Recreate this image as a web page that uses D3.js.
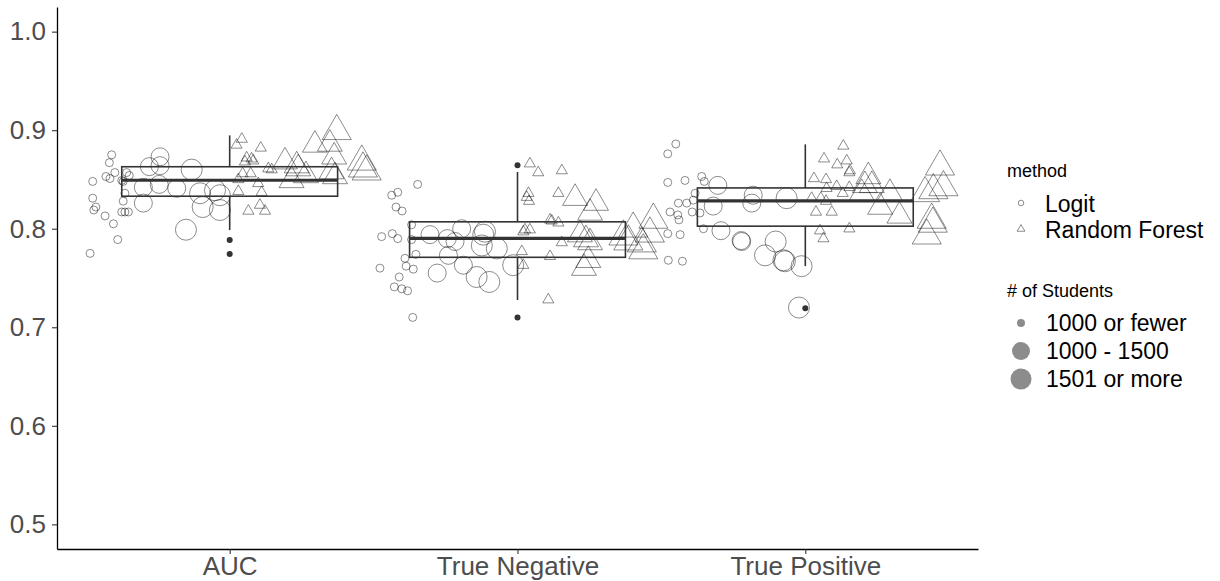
<!DOCTYPE html>
<html>
<head>
<meta charset="utf-8">
<script src="https://cdn.jsdelivr.net/npm/d3@7"></script>
<style>
  body { margin: 0; background: #fff; }
  svg { display: block; font-family: "Liberation Sans", Arial, sans-serif; }
</style>
</head>
<body>
<div id="chart"></div>
<script>
// chart data
const categories = ["AUC", "True Negative", "True Positive"];
const methods = ["Logit", "Random Forest"];
const sizeClasses = ["1000 or fewer", "1000 - 1500", "1501 or more"];
const yTicks = [0.5, 0.6, 0.7, 0.8, 0.9, 1.0];

// boxplot stats per category
const boxLow = [0.7986, 0.7277, 0.7621];
const boxQ1 = [0.833, 0.771, 0.8026];
const boxMedian = [0.8492, 0.7902, 0.8282];
const boxQ3 = [0.8629, 0.807, 0.8414];
const boxHigh = [0.8947, 0.8576, 0.8856];
const outliers = [[0.7885, 0.7743], [0.8644, 0.7098], [0.7193]];

// points: [value, size class index, jitter (category units)]
const aucLogit = [
  [0.875,0,-0.410],[0.867,0,-0.418],[0.853,0,-0.430],[0.851,0,-0.416],[0.857,0,-0.399],[0.848,0,-0.476],
  [0.854,0,-0.349],[0.848,0,-0.370],[0.836,0,-0.364],[0.831,0,-0.476],[0.822,0,-0.465],[0.819,0,-0.472],
  [0.813,0,-0.433],[0.805,0,-0.404],[0.817,0,-0.375],[0.817,0,-0.364],[0.817,0,-0.352],[0.828,0,-0.370],
  [0.789,0,-0.389],[0.775,0,-0.485],[0.849,0,-0.375],[0.857,0,-0.358],
  [0.873,1,-0.242],[0.863,1,-0.279],[0.864,1,-0.242],[0.860,2,-0.132],[0.842,1,-0.300],[0.845,1,-0.245],
  [0.841,1,-0.184],[0.836,2,-0.103],[0.839,2,-0.051],[0.834,2,-0.034],[0.826,1,-0.300],[0.822,2,-0.094],
  [0.819,2,-0.034],[0.799,2,-0.152]
];
const aucForest = [
  [0.891,0,0.042],[0.885,0,0.024],[0.882,0,0.108],[0.872,0,0.059],[0.871,0,0.076],[0.869,0,0.082],
  [0.868,0,0.053],[0.861,0,0.134],[0.860,0,0.146],[0.856,0,0.045],[0.856,0,0.073],[0.850,0,0.030],
  [0.846,0,0.099],[0.838,0,0.030],[0.837,0,0.111],[0.824,0,0.105],[0.818,0,0.065],[0.818,0,0.123],
  [0.864,1,0.233],[0.899,2,0.372],[0.885,1,0.296],[0.886,1,0.348],[0.873,1,0.363],[0.868,1,0.192],
  [0.861,1,0.238],[0.854,1,0.265],[0.849,1,0.215],[0.858,1,0.354],[0.853,1,0.366],[0.868,2,0.459],
  [0.858,2,0.476],[0.861,2,0.463]
];
const tnLogit = [
  [0.845,0,-0.347],[0.834,0,-0.437],[0.837,0,-0.416],[0.822,0,-0.422],[0.818,0,-0.401],[0.804,0,-0.368],
  [0.792,0,-0.472],[0.795,0,-0.435],[0.790,0,-0.416],[0.789,0,-0.368],[0.774,0,-0.353],[0.770,0,-0.391],
  [0.760,0,-0.478],[0.762,0,-0.387],[0.759,0,-0.362],[0.751,0,-0.411],[0.741,0,-0.428],[0.739,0,-0.402],
  [0.737,0,-0.382],[0.710,0,-0.364],
  [0.794,1,-0.304],[0.790,1,-0.244],[0.800,1,-0.194],[0.787,1,-0.217],[0.797,2,-0.113],[0.794,2,-0.119],
  [0.783,2,-0.124],[0.780,2,-0.072],[0.773,1,-0.240],[0.763,1,-0.188],[0.755,1,-0.279],[0.751,2,-0.142],
  [0.746,2,-0.098],[0.763,2,-0.015]
];
const tnForest = [
  [0.866,0,0.043],[0.857,0,0.072],[0.859,0,0.154],[0.836,0,0.038],[0.832,0,0.032],[0.828,0,0.040],
  [0.836,0,0.142],[0.809,0,0.113],[0.808,0,0.119],[0.806,0,0.142],[0.799,0,0.026],[0.799,0,0.043],
  [0.797,0,0.020],[0.786,0,0.154],[0.777,0,0.015],[0.763,0,0.020],[0.772,0,0.113],[0.728,0,0.107],
  [0.831,1,0.200],[0.826,1,0.273],[0.816,1,0.252],[0.794,1,0.217],[0.789,1,0.238],[0.786,1,0.252],
  [0.768,1,0.246],[0.760,1,0.231],[0.792,2,0.368],[0.800,2,0.402],[0.809,2,0.472],[0.785,2,0.432],
  [0.778,2,0.437],[0.795,2,0.460],[0.787,2,0.385]
];
const tpLogit = [
  [0.886,0,-0.450],[0.876,0,-0.478],[0.847,0,-0.478],[0.849,0,-0.418],[0.853,0,-0.360],[0.848,0,-0.351],
  [0.836,0,-0.383],[0.829,0,-0.389],[0.826,0,-0.412],[0.826,0,-0.441],[0.817,0,-0.470],[0.814,0,-0.443],
  [0.809,0,-0.439],[0.817,0,-0.393],[0.816,0,-0.366],[0.800,0,-0.354],[0.795,0,-0.478],[0.794,0,-0.435],
  [0.768,0,-0.476],[0.767,0,-0.427],
  [0.844,1,-0.304],[0.823,1,-0.320],[0.834,1,-0.181],[0.826,1,-0.186],[0.831,2,-0.065],[0.798,1,-0.293],
  [0.787,1,-0.221],[0.788,1,-0.223],[0.787,2,-0.103],[0.773,2,-0.140],[0.768,2,-0.076],[0.767,2,-0.071],
  [0.762,2,-0.013],[0.720,2,-0.022]
];
const tpForest = [
  [0.884,0,0.132],[0.871,0,0.065],[0.865,0,0.111],[0.869,0,0.144],[0.859,0,0.155],[0.857,0,0.153],
  [0.851,0,0.030],[0.850,0,0.072],[0.843,0,0.109],[0.842,0,0.153],[0.841,0,0.074],[0.836,0,0.130],
  [0.831,0,0.022],[0.831,0,0.054],[0.828,0,0.072],[0.817,0,0.037],[0.817,0,0.092],[0.800,0,0.153],
  [0.798,0,0.051],[0.790,0,0.063],
  [0.853,1,0.219],[0.844,1,0.207],[0.844,1,0.231],[0.836,1,0.196],[0.836,1,0.294],[0.822,1,0.260],
  [0.813,1,0.327],[0.863,2,0.468],[0.842,2,0.480],[0.836,2,0.416],[0.839,2,0.445],[0.809,2,0.439],
  [0.805,2,0.443],[0.793,2,0.422]
];

// svg frame
const FRAME_WIDTH = 1220;
const FRAME_HEIGHT = 581;
const PLOT = {left: 57, right: 978, top: 7, bottom: 549};

const svg = d3.select("#chart")
  .append("svg")
    .attr("width", FRAME_WIDTH)
    .attr("height", FRAME_HEIGHT);

// scales
const x = d3.scaleLinear().domain([0.4, 3.6]).range([PLOT.left, PLOT.right]);
const y = d3.scaleLinear().domain([0.475, 1.025]).range([PLOT.bottom, PLOT.top]);
const radius = d3.scaleOrdinal().domain([0, 1, 2]).range([4, 9, 10.5]);
const shape = d3.scaleOrdinal().domain(methods).range([d3.symbolCircle, d3.symbolTriangle]);

// symbol area for a given radius (triangles drawn ~1.6x bigger like R's pch 2)
function symbolSize(method, r) {
  if (method === "Logit") return Math.PI * r * r;
  const R = r * 1.6;
  return 3 * Math.sqrt(3) * R * R / 4;
}

// flatten point arrays
const groups = [
  [aucLogit, 0, "Logit"], [aucForest, 0, "Random Forest"],
  [tnLogit, 1, "Logit"], [tnForest, 1, "Random Forest"],
  [tpLogit, 2, "Logit"], [tpForest, 2, "Random Forest"]
];
const points = [];
groups.forEach(([arr, cat, method]) => {
  arr.forEach(d => points.push({cat: cat, method: method, value: d[0], size: d[1], jitter: d[2]}));
});

// points
svg.append("g")
  .selectAll("path")
  .data(points)
  .enter()
  .append("path")
    .attr("transform", d => `translate(${x(d.cat + 1 + d.jitter)},${y(d.value)})`)
    .attr("d", d => d3.symbol(shape(d.method), symbolSize(d.method, radius(d.size)))())
    .attr("fill", "none")
    .attr("stroke", "#000")
    .attr("stroke-opacity", 0.45)
    .attr("stroke-width", 1);

// boxplots
const boxW = 0.375;
const boxes = svg.append("g")
  .selectAll("g")
  .data(categories)
  .enter()
  .append("g");

boxes.append("line")
  .attr("x1", (d, i) => x(i + 1)).attr("x2", (d, i) => x(i + 1))
  .attr("y1", (d, i) => y(boxQ3[i])).attr("y2", (d, i) => y(boxHigh[i]))
  .attr("stroke", "#333").attr("stroke-width", 1.6);

boxes.append("line")
  .attr("x1", (d, i) => x(i + 1)).attr("x2", (d, i) => x(i + 1))
  .attr("y1", (d, i) => y(boxQ1[i])).attr("y2", (d, i) => y(boxLow[i]))
  .attr("stroke", "#333").attr("stroke-width", 1.6);

boxes.append("rect")
  .attr("x", (d, i) => x(i + 1 - boxW))
  .attr("width", (d, i) => x(i + 1 + boxW) - x(i + 1 - boxW))
  .attr("y", (d, i) => y(boxQ3[i]))
  .attr("height", (d, i) => y(boxQ1[i]) - y(boxQ3[i]))
  .attr("fill", "none")
  .attr("stroke", "#333")
  .attr("stroke-width", 1.6);

boxes.append("line")
  .attr("x1", (d, i) => x(i + 1 - boxW)).attr("x2", (d, i) => x(i + 1 + boxW))
  .attr("y1", (d, i) => y(boxMedian[i])).attr("y2", (d, i) => y(boxMedian[i]))
  .attr("stroke", "#333").attr("stroke-width", 3.2);

boxes.selectAll("circle")
  .data((d, i) => outliers[i].map(v => ({cat: i, value: v})))
  .enter()
  .append("circle")
    .attr("cx", d => x(d.cat + 1))
    .attr("cy", d => y(d.value))
    .attr("r", 3)
    .attr("fill", "#333");

// axes
const yAxis = svg.append("g")
  .attr("transform", `translate(${PLOT.left},0)`)
  .call(d3.axisLeft(y).tickValues(yTicks).tickFormat(d3.format(".1f"))
    .tickSize(5).tickSizeOuter(0).tickPadding(6));

const xAxis = svg.append("g")
  .attr("transform", `translate(0,${PLOT.bottom})`)
  .call(d3.axisBottom(x).tickValues([1, 2, 3]).tickFormat(d => categories[d - 1])
    .tickSize(5).tickSizeOuter(0).tickPadding(3));

[xAxis, yAxis].forEach(ax => {
  ax.select(".domain").attr("stroke", "#000").attr("stroke-width", 1.3);
  ax.selectAll(".tick line").attr("stroke", "#333").attr("stroke-width", 1.1);
  ax.selectAll(".tick text")
    .attr("fill", "#4d4d4d")
    .attr("font-size", 26)
    .attr("font-family", "Liberation Sans, Arial, sans-serif");
});

// legend
const legend = svg.append("g").attr("transform", "translate(1007,0)");

legend.append("text")
  .attr("x", 0).attr("y", 177)
  .attr("font-size", 18)
  .text("method");

const methodY = d3.scalePoint().domain(methods).range([203, 229]);
methods.forEach(m => {
  legend.append("path")
    .attr("transform", `translate(14,${methodY(m)})`)
    .attr("d", d3.symbol(shape(m), symbolSize(m, 2.8))())
    .attr("fill", "none")
    .attr("stroke", "#000")
    .attr("stroke-opacity", 0.45);
  legend.append("text")
    .attr("x", 38).attr("y", methodY(m) + 8.5)
    .attr("font-size", 23)
    .text(m);
});

legend.append("text")
  .attr("x", 0).attr("y", 297)
  .attr("font-size", 18)
  .text("# of Students");

const sizeY = d3.scalePoint().domain(sizeClasses).range([323, 379]);
sizeClasses.forEach((s, i) => {
  legend.append("circle")
    .attr("cx", 14).attr("cy", sizeY(s))
    .attr("r", radius(i))
    .attr("fill", "#000")
    .attr("fill-opacity", 0.45);
  legend.append("text")
    .attr("x", 39).attr("y", sizeY(s) + 8)
    .attr("font-size", 23)
    .text(s);
});
</script>
</body>
</html>
